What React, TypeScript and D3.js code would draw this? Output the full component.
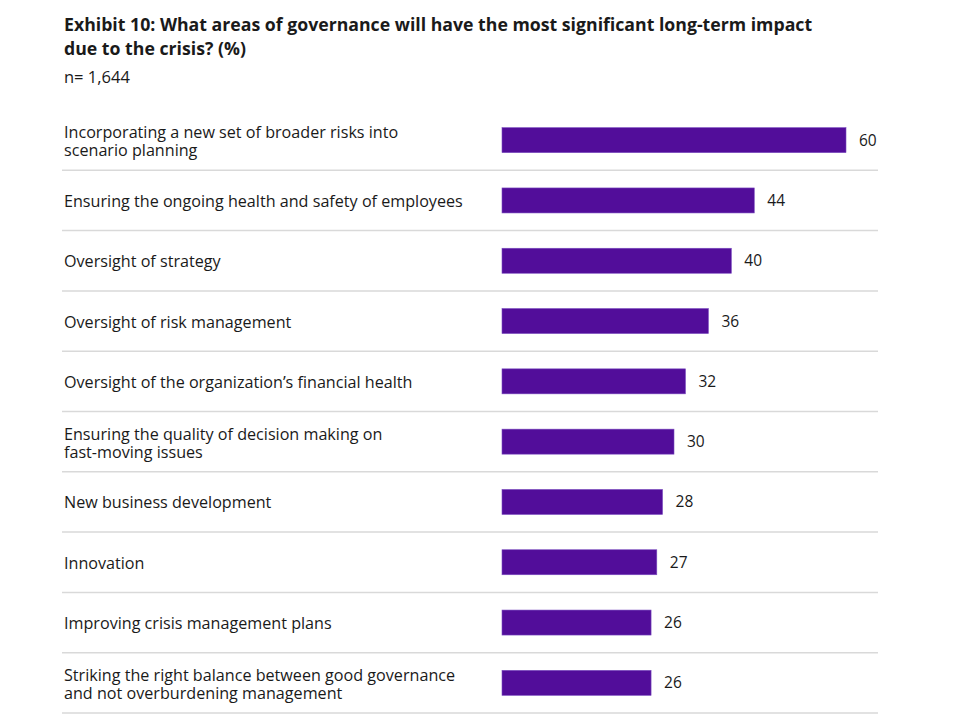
import React from "react";
import * as d3 from "d3";

const categories: string[][] = [
  ["Incorporating a new set of broader risks into", "scenario planning"],
  ["Ensuring the ongoing health and safety of employees"],
  ["Oversight of strategy"],
  ["Oversight of risk management"],
  ["Oversight of the organization\u2019s financial health"],
  ["Ensuring the quality of decision making on", "fast-moving issues"],
  ["New business development"],
  ["Innovation"],
  ["Improving crisis management plans"],
  ["Striking the right balance between good governance", "and not overburdening management"],
];
const values: number[] = [60, 44, 40, 36, 32, 30, 28, 27, 26, 26];
const titleLines = [
  "Exhibit 10: What areas of governance will have the most significant long-term impact",
  "due to the crisis? (%)",
];
const subtitle = "n= 1,644";

export default function App() {
  const W = 980, H = 719;
  const font = "'Open Sans', 'Noto Sans', sans-serif";
  const idx = values.map((_, i) => String(i));
  const y = d3.scaleBand<string>().domain(idx).range([110, 713]).paddingInner(0).paddingOuter(0);
  const x = d3.scaleLinear().domain([0, 60]).range([502, 846]);
  const step = y.step();
  const barH = 25;
  return (
    <svg width={W} height={H} style={{ position: "absolute", left: 0, top: 0, background: "#fff" }}>
      <g fontFamily={font} fill="#1a1a1a">
        <text x={64} y={31} fontSize={17.7} fontWeight={700}>
          {titleLines.map((t, i) => (
            <tspan key={i} x={64} dy={i === 0 ? 0 : 23.5}>{t}</tspan>
          ))}
        </text>
        <text x={64} y={83} fontSize={16.5}>{subtitle}</text>
      </g>
      {idx.map((k, i) => {
        const cy = (y(k) as number) + step / 2;
        const lines = categories[i];
        return (
          <g key={k} fontFamily={font}>
            <text
              x={64}
              y={lines.length === 1 ? cy + 6.5 : cy - 2}
              fontSize={16.15}
              fill="#1a1a1a"
            >
              {lines.map((l, j) => (
                <tspan key={j} x={64} dy={j === 0 ? 0 : 18}>{l}</tspan>
              ))}
            </text>
            <rect x={x(0)} y={cy - barH / 2} width={x(values[i]) - x(0)} height={barH} fill="#520d9a" stroke="#7a4bbf" strokeWidth={0.6} />
            <text x={x(values[i]) + 13} y={cy + 5.5} fontSize={15.5} fill="#1a1a1a">{values[i]}</text>
            <line x1={62} x2={878} y1={(y(k) as number) + step} y2={(y(k) as number) + step} stroke="#d9d9d9" strokeWidth={1.5} />
          </g>
        );
      })}
    </svg>
  );
}
